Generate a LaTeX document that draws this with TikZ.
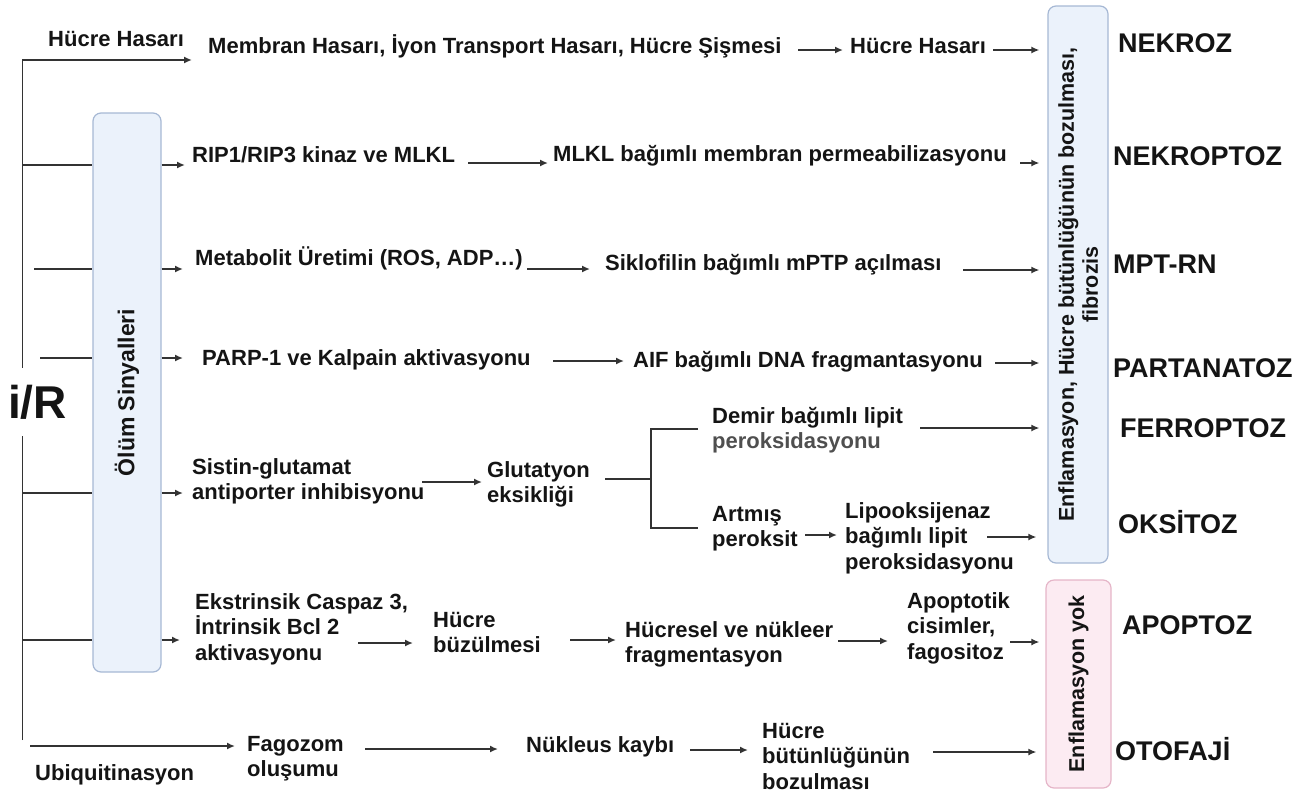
\documentclass[tikz,border=0pt]{standalone}
\usepackage{fontspec}
\setmainfont{Liberation Sans}
\usetikzlibrary{arrows.meta,calc}
\definecolor{ink}{HTML}{141414}
\definecolor{lc}{HTML}{333333}
\definecolor{bbd}{HTML}{A6B8D4}
\definecolor{bbf}{HTML}{EBF2FB}
\definecolor{pbd}{HTML}{E5B5C8}
\definecolor{pbf}{HTML}{FCEBF2}
\tikzset{
  txt/.style={inner sep=0pt, font=\bfseries\fontsize{22}{25.5}\selectfont, text=ink, align=left},
  lbl/.style={inner sep=0pt, font=\bfseries\fontsize{27}{30}\selectfont, text=ink, anchor=base west},
  ln/.style={draw=lc, line width=1.9pt},
  arr/.style={ln, -{Latex[length=8pt,width=7pt]}},
  vbox/.style={rounded corners=8pt, line width=1.2pt, rotate=90, inner sep=0pt, align=center, text=ink},
  bluebox/.style={vbox, draw=bbd, fill=bbf},
  pinkbox/.style={vbox, draw=pbd, fill=pbf}
}
\begin{document}
\begin{tikzpicture}[x=1pt,y=-1pt]
\useasboundingbox (0,0) rectangle (1311,798);

% boxes (rotated 90: north = left side, south = right side)
\node[bluebox, minimum width=559pt, minimum height=68pt, font=\bfseries\fontsize{23}{26}\selectfont] (sig) at (127,392.5) {Ölüm Sinyalleri};
\node[bluebox, minimum width=557pt, minimum height=60pt, font=\bfseries\fontsize{21.5}{24}\selectfont] (rb) at (1078,284.5) {Enflamasyon, Hücre bütünlüğünün bozulması,\\fibrozis};
\node[pinkbox, minimum width=208pt, minimum height=65pt, font=\bfseries\fontsize{21.5}{24}\selectfont] (pb) at (1078.5,684) {Enflamasyon yok};

% texts
\node[txt, anchor=base west] (hh1) at (48,46) {Hücre Hasarı};
\node[txt, anchor=base west] (mh) at (208,53) {Membran Hasarı, İyon Transport Hasarı, Hücre Şişmesi};
\node[txt, anchor=base west] (hh2) at (850,53) {Hücre Hasarı};
\node[txt, anchor=base west] (rip) at (192,162) {RIP1/RIP3 kinaz ve MLKL};
\node[txt, anchor=base west] (mlkl) at (553,161) {MLKL bağımlı membran permeabilizasyonu};
\node[txt, anchor=base west] (met) at (195,265) {Metabolit Üretimi (ROS, ADP…)};
\node[txt, anchor=base west] (sik) at (605,270) {Siklofilin bağımlı mPTP açılması};
\node[txt, anchor=base west] (parp) at (202,365) {PARP-1 ve Kalpain aktivasyonu};
\node[txt, anchor=base west] (aif) at (633,367) {AIF bağımlı DNA fragmantasyonu};
\node[txt, anchor=north west] (sis) at (192,458) {Sistin-glutamat\\antiporter inhibisyonu};
\node[txt, anchor=north west] (glu) at (487,461) {Glutatyon\\eksikliği};
\node[txt, anchor=north west] (dem) at (712,407) {Demir bağımlı lipit\\{\color{ink!75}peroksidasyonu}};
\node[txt, anchor=north west] (art) at (712,506) {Artmış\\peroksit};
\node[txt, anchor=north west] (lip) at (845,502) {Lipooksijenaz\\bağımlı lipit\\peroksidasyonu};
\node[txt, anchor=north west] (eks) at (195,593) {Ekstrinsik Caspaz 3,\\İntrinsik Bcl 2\\aktivasyonu};
\node[txt, anchor=north west] (buz) at (433,612) {Hücre\\büzülmesi};
\node[txt, anchor=north west] (frag) at (625,621) {Hücresel ve nükleer\\fragmentasyon};
\node[txt, anchor=north west] (apc) at (907,592) {Apoptotik\\cisimler,\\fagositoz};
\node[txt, anchor=base west] (ubq) at (35,780) {Ubiquitinasyon};
\node[txt, anchor=north west] (fag) at (247,736) {Fagozom\\oluşumu};
\node[txt, anchor=base west] (nuk) at (526,752) {Nükleus kaybı};
\node[txt, anchor=north west] (hbb) at (762,723) {Hücre\\bütünlüğünün\\bozulması};

% outcome labels
\node[lbl] (l1) at (1118,52) {NEKROZ};
\node[lbl] (l2) at (1113,165) {NEKROPTOZ};
\node[lbl] (l3) at (1113,273) {MPT-RN};
\node[lbl] (l4) at (1113,377) {PARTANATOZ};
\node[lbl] (l5) at (1120,437) {FERROPTOZ};
\node[lbl] (l6) at (1118,533) {OKSİTOZ};
\node[lbl] (l7) at (1122,634) {APOPTOZ};
\node[lbl] (l8) at (1115,760) {OTOFAJİ};

% trunk coordinates
\coordinate (t1) at (22.5,60);
\coordinate (t2) at (22.5,165);
\coordinate (t3) at (34,269);
\coordinate (t4) at (40,358);
\coordinate (t5) at (22.5,493);
\coordinate (t6) at (22.5,640);
\coordinate (tb) at (22.5,740);
\coordinate (u0) at (30,746);
\coordinate (bt) at (651,429);
\coordinate (bb) at (651,528);

% arrow start points
\path ($(mh.base west)+(590,-3)$) coordinate (a1);
\path ($(hh2.base west)+(143,-3)$) coordinate (a2);
\path ($(rip.base west)+(276,1)$) coordinate (b1);
\path ($(mlkl.base west)+(467,2)$) coordinate (b2);
\path ($(met.base west)+(332,4)$) coordinate (c1);
\path ($(sik.base west)+(358,0)$) coordinate (c2);
\path ($(parp.base west)+(351,-4)$) coordinate (d1);
\path ($(aif.base west)+(362,-4)$) coordinate (d2);
\path ($(sis.north west)+(230,24)$) coordinate (e1);
\path ($(glu.north west)+(118,18)$) coordinate (e2);
\path ($(dem.north west)+(208,21)$) coordinate (e3);
\path ($(art.north west)+(93,29)$) coordinate (e4);
\path ($(lip.north west)+(142,35)$) coordinate (e5);
\path ($(eks.north west)+(163,50)$) coordinate (f1);
\path ($(buz.north west)+(137,28)$) coordinate (f2);
\path ($(frag.north west)+(213,20)$) coordinate (f3);
\path ($(apc.north west)+(103,50)$) coordinate (f4);
\path ($(fag.north west)+(118,13)$) coordinate (g1);
\path ($(nuk.base west)+(164,-2)$) coordinate (g2);
\path ($(hbb.north west)+(171,29)$) coordinate (g3);

% row 1
\draw[arr, shorten >=16pt] (tb) -- (t1) -- (t1 -| mh.west);
\draw[arr, shorten >=7pt] (a1) -- (a1 -| hh2.west);
\draw[arr, shorten >=8pt] (a2) -- (a2 -| rb.north);
% row 2
\draw[ln] (t2) -- (t2 -| sig.north);
\draw[arr, shorten >=7pt] (t2 -| sig.south) -- (t2 -| rip.west);
\draw[arr, shorten >=5pt] (b1) -- (b1 -| mlkl.west);
\draw[arr, shorten >=8pt] (b2) -- (b2 -| rb.north);
% row 3
\draw[ln] (t3) -- (t3 -| sig.north);
\draw[arr, shorten >=12pt] (t3 -| sig.south) -- (t3 -| met.west);
\draw[arr, shorten >=15pt] (c1) -- (c1 -| sik.west);
\draw[arr, shorten >=8pt] (c2) -- (c2 -| rb.north);
% row 4
\draw[ln] (t4) -- (t4 -| sig.north);
\draw[arr, shorten >=19pt] (t4 -| sig.south) -- (t4 -| parp.west);
\draw[arr, shorten >=9pt] (d1) -- (d1 -| aif.west);
\draw[arr, shorten >=8pt] (d2) -- (d2 -| rb.north);
% row 5
\draw[ln] (t5) -- (t5 -| sig.north);
\draw[arr, shorten >=9pt] (t5 -| sig.south) -- (t5 -| sis.west);
\draw[arr, shorten >=5pt] (e1) -- (e1 -| glu.west);
\draw[ln] (e2) -- (e2 -| bt);
\draw[ln, shorten <=14pt, shorten >=14pt] (bt -| dem.west) -- (bt) -- (bb) -- (bb -| art.west);
\draw[arr, shorten >=8pt] (e3) -- (e3 -| rb.north);
\draw[arr, shorten >=8pt] (e4) -- (e4 -| lip.west);
\draw[arr, shorten >=11pt] (e5) -- (e5 -| rb.north);
% row 6
\draw[ln] (t6) -- (t6 -| sig.north);
\draw[arr, shorten >=15pt] (t6 -| sig.south) -- (t6 -| eks.west);
\draw[arr, shorten >=20pt] (f1) -- (f1 -| buz.west);
\draw[arr, shorten >=9pt] (f2) -- (f2 -| frag.west);
\draw[arr, shorten >=19pt] (f3) -- (f3 -| apc.west);
\draw[arr, shorten >=6pt] (f4) -- (f4 -| pb.north);
% row 7
\draw[arr, shorten >=12pt] (u0) -- (u0 -| fag.west);
\draw[arr, shorten >=28pt] (g1) -- (g1 -| nuk.west);
\draw[arr, shorten >=14pt] (g2) -- (g2 -| hbb.west);
\draw[arr, shorten >=9pt] (g3) -- (g3 -| pb.north);

% i/R over the trunk
\node[font=\bfseries\fontsize{46}{50}\selectfont, text=ink, fill=white, inner xsep=1pt, inner ysep=17pt, anchor=base west] (ir) at (7,418) {i/R};
\end{tikzpicture}
\end{document}
